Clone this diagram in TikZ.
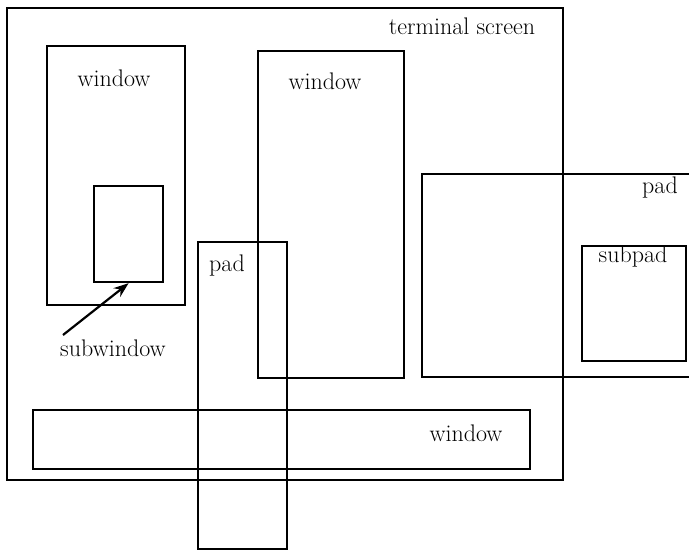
\documentclass[tikz,border=0pt]{standalone}
\usetikzlibrary{arrows.meta}
\begin{document}
\begin{tikzpicture}[x=1pt,y=-1pt,
  box/.style={draw, line width=2.2pt, inner sep=0pt, anchor=north west},
  lbl/.style={font=\fontsize{24}{28}\selectfont, inner sep=0pt},
  arr/.style={line width=2.2pt, -{Stealth[length=15pt,width=11pt]}}]
\useasboundingbox (0,0) rectangle (689,550);
\clip (0,0) rectangle (689,550);
% terminal screen
\node[box, minimum width=556pt, minimum height=472pt] (term) at (6,7) {};
\node[lbl] (termlbl) at (462,26) {terminal screen};
% window 1 and subwindow
\node[box, minimum width=138pt, minimum height=259pt] (win1) at (46,45) {};
\node[lbl] (win1lbl) at (114,78) {window};
\node[box, minimum width=69pt, minimum height=96pt] (sub) at (93,185) {};
\node[lbl] (sublbl) at (113,348) {subwindow};
\coordinate (arrstart) at (63,335);
\draw[arr] (arrstart) -- (sub.south);
% window 2
\node[box, minimum width=146pt, minimum height=327pt] (win2) at (257,50) {};
\node[lbl] (win2lbl) at (325,81) {window};
% right pad and subpad
\node[box, minimum width=300pt, minimum height=203pt] (pad2) at (421,173) {};
\node[lbl] (pad2lbl) at (660,188) {pad};
\node[box, minimum width=104pt, minimum height=115pt] (subpad) at (581,245) {};
\node[lbl] (subpadlbl) at (633,257) {subpad};
% bottom window
\node[box, minimum width=497pt, minimum height=59pt] (win3) at (32,409) {};
\node[lbl] (win3lbl) at (466,433) {window};
% vertical pad
\node[box, minimum width=89pt, minimum height=307pt] (pad1) at (197,241) {};
\node[lbl] (pad1lbl) at (227,266) {pad};
\end{tikzpicture}
\end{document}
